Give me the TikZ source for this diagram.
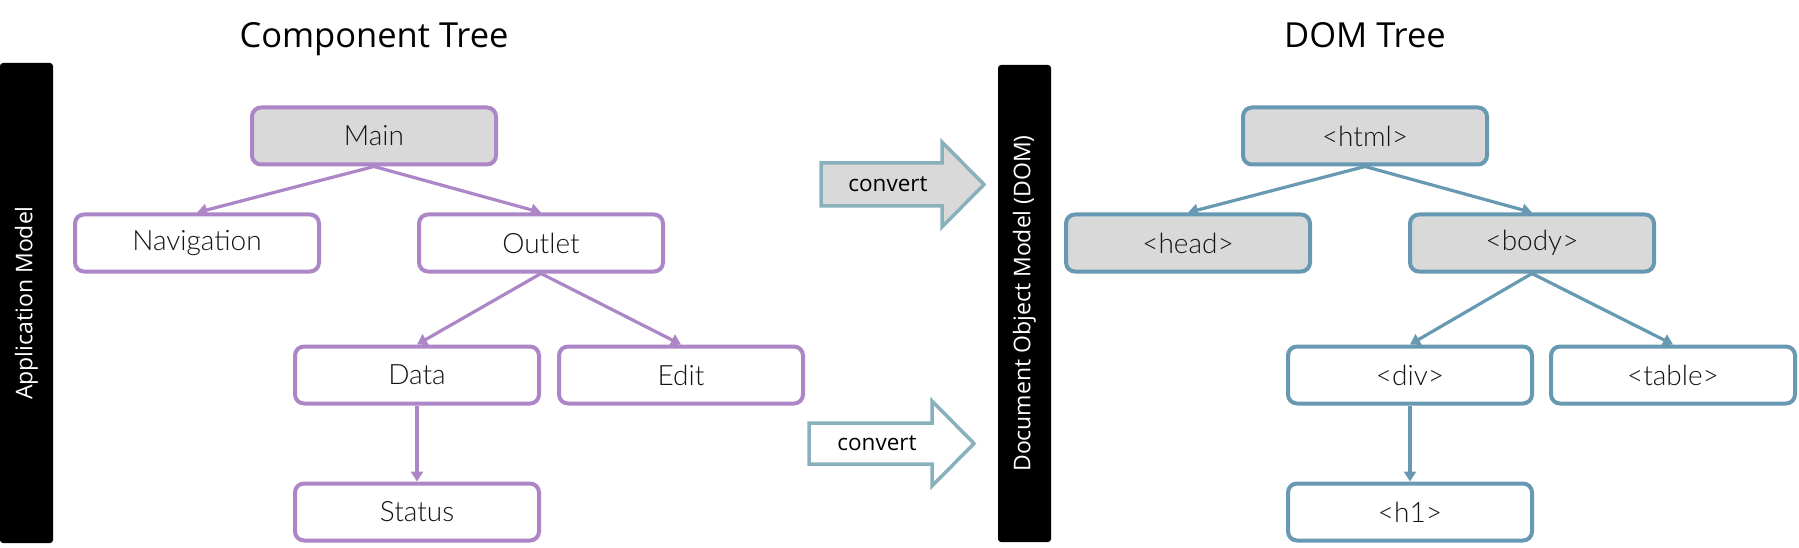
\documentclass[tikz,border=0pt]{standalone}
\usepackage{fontspec}
\setmainfont{Open Sans}
\IfFontExistsTF{Lato Light}{\newfontfamily\labelfont{Lato Light}}{\newfontfamily\labelfont{Lato}}
\usetikzlibrary{arrows.meta}
\definecolor{purp}{RGB}{172,134,198}
\definecolor{domblue}{RGB}{104,153,178}
\definecolor{convcol}{RGB}{137,177,188}
\definecolor{boxgray}{RGB}{217,217,217}
\definecolor{labtext}{RGB}{20,20,20}
\tikzset{
  treebox/.style={rectangle, rounded corners=9pt, line width=4pt, minimum width=244pt, minimum height=57pt,
    inner sep=0pt, font=\labelfont\fontsize{28}{31}\selectfont, text=labtext},
  pbox/.style={treebox, draw=purp, fill=white},
  pboxg/.style={treebox, draw=purp, fill=boxgray},
  dbox/.style={treebox, draw=domblue, fill=white},
  dboxg/.style={treebox, draw=domblue, fill=boxgray},
  pedge/.style={draw=purp, line width=3.2pt, -{Triangle[length=10pt,width=12pt]}},
  dedge/.style={draw=domblue, line width=3.2pt, -{Triangle[length=10pt,width=12pt]}},
  sidebar/.style={rectangle, fill=black, rounded corners=3pt, rotate=90, minimum height=53pt, inner sep=0pt,
    text=white, font=\fontsize{23}{26}\selectfont},
  titletext/.style={anchor=base, font=\fontsize{34.5}{40}\selectfont, text=black},
  convshape/.style={draw=convcol, line width=3.5pt, line join=miter},
  convtext/.style={font=\fontsize{22.5}{26}\selectfont, text=black}
}
\begin{document}
\begin{tikzpicture}[x=1pt,y=-1pt]
\useasboundingbox (0,0) rectangle (1799,548);
\fill[white] (0,0) rectangle (1799,548);

% titles
\node[titletext] (ctitle) at (374,48) {Component Tree};
\node[titletext] (dtitle) at (1365,48) {DOM Tree};

% side bars
\node[sidebar, minimum width=480pt] (appbar) at (26.5,303) {Application Model};
\node[sidebar, minimum width=477pt] (dombar) at (1024.5,303.5) {Document Object Model (DOM)};

% component tree
\node[pboxg] (main) at (374,136) {Main};
\node[pbox] (nav) at (197,243) {Navigation};
\node[pbox] (outlet) at (541,243) {Outlet};
\node[pbox] (data) at (417,375) {Data};
\node[pbox] (edit) at (681,375) {Edit};
\node[pbox] (status) at (417,512) {Status};

\draw[pedge] (main.south) -- (nav.north);
\draw[pedge] (main.south) -- (outlet.north);
\draw[pedge] (outlet.south) -- (data.north);
\draw[pedge] (outlet.south) -- (edit.north);
\draw[pedge] (data.south) -- (status.north);

% DOM tree
\node[dboxg] (html) at (1365,136) {<html>};
\node[dboxg] (head) at (1188,243) {<head>};
\node[dboxg] (body) at (1532,243) {<body>};
\node[dbox] (div) at (1410,375) {<div>};
\node[dbox] (table) at (1673,375) {<table>};
\node[dbox] (h1) at (1410,512) {<h1>};

\draw[dedge] (html.south) -- (head.north);
\draw[dedge] (html.south) -- (body.north);
\draw[dedge] (body.south) -- (div.north);
\draw[dedge] (body.south) -- (table.north);
\draw[dedge] (div.south) -- (h1.north);

% convert arrows
\draw[convshape, fill=boxgray] (821,163) -- (942,163) -- (942,142) -- (984,184.5) -- (942,227) -- (942,206) -- (821,206) -- cycle;
\node[convtext] (conv1) at (888,184.5) {convert};
\draw[convshape, fill=white] (809,423) -- (932,423) -- (932,401) -- (974,443.5) -- (932,486) -- (932,464) -- (809,464) -- cycle;
\node[convtext] (conv2) at (877,443.5) {convert};
\end{tikzpicture}
\end{document}
